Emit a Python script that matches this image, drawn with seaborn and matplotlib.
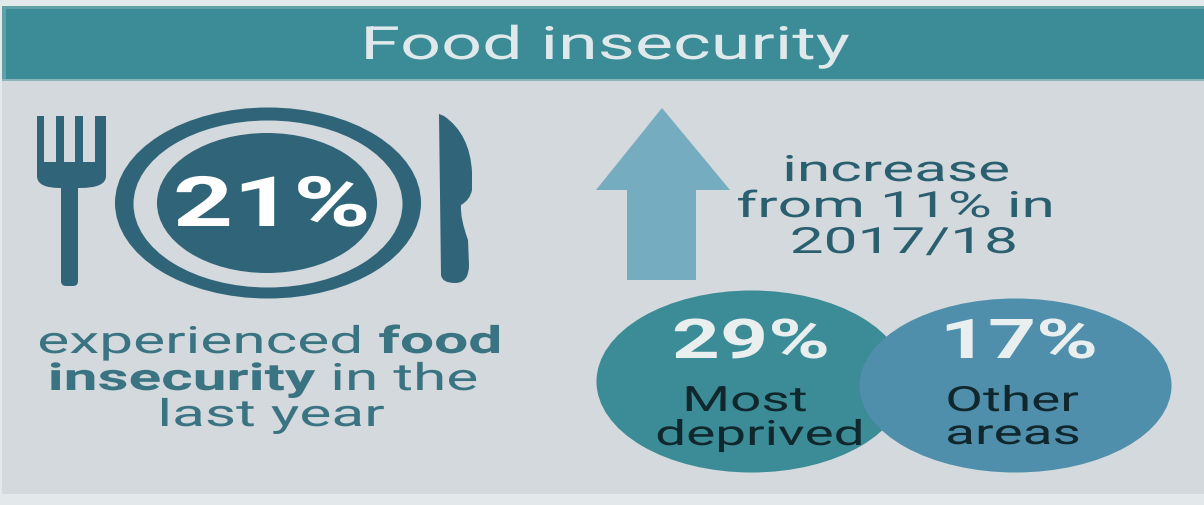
import matplotlib
matplotlib.use("Agg")
import matplotlib.pyplot as plt
import matplotlib.patheffects as pe
from matplotlib.markers import MarkerStyle
from matplotlib.patches import Ellipse, PathPatch, Rectangle, Polygon, FancyBboxPatch
from matplotlib.path import Path
from matplotlib.transforms import Affine2D
import pandas as pd
import seaborn as sns

# Figures shown on the panel
overall_pct = 21
previous_pct = 11
previous_year = "2017/18"
area_names = ["Most\ndeprived", "Other\nareas"]
area_pcts = [29, 17]

# Bubble layout for the two area groups
area_x = [751, 1015]
area_y = [381, 385]
area_radii = [(155, 91), (156, 87)]

PANEL = "#d3d9dc"
PAGE = "#e3e8eb"
TEAL = "#3b8c96"
DARK = "#306478"
BLUE = "#4f8fab"
ARROW = "#76acc0"
INK = "#10272d"

W, H = 1204, 505
sns.set_theme(style="white")
plt.rcParams["font.family"] = ["Roboto", "DejaVu Sans"]

fig = plt.figure(figsize=(W / 100, H / 100), dpi=100, facecolor=PAGE)
ax = fig.add_axes([0, 0, 1, 1])
ax.set_xlim(0, W)
ax.set_ylim(H, 0)
ax.axis("off")


class WideGlyphs(pe.AbstractPathEffect):
    """Draws text glyphs widened about a fixed x position in pixels."""

    def __init__(self, anchor, factor):
        super().__init__()
        self.anchor = anchor
        self.factor = factor

    def draw_path(self, renderer, gc, tpath, affine, rgbFace=None):
        wide = affine + Affine2D().translate(-self.anchor, 0).scale(self.factor, 1).translate(self.anchor, 0)
        renderer.draw_path(gc, tpath, wide, rgbFace)


def label(x, y, parts, size, color, stretch=1.6, weight="normal", zorder=4):
    """Centres one line of widened text on pixel x; parts are (string, weight) runs."""
    if isinstance(parts, str):
        parts = [(parts, weight)]
    renderer = fig.canvas.get_renderer()
    items = [ax.text(0, y, s, fontsize=size, color=color, fontweight=w, ha="left", va="baseline", zorder=zorder)
             for s, w in parts]
    widths = [t.get_window_extent(renderer).width for t in items]
    cursor = x - sum(widths) / 2
    for t, w in zip(items, widths):
        t.set_x(cursor)
        cursor += w
        t.set_path_effects([WideGlyphs(x, stretch)])


# Page panel and header band with its soft edge
ax.add_patch(Rectangle((2, 81), W - 2, 413, color=PANEL, lw=0))
ax.add_patch(Rectangle((2, 6), W - 2, 75, color="#8ab5bb", lw=0))
ax.add_patch(Rectangle((2, 6), W - 2, 73, color="#62a0a8", lw=0))
ax.add_patch(Rectangle((6, 8.7), W - 6, 70.3, color=TEAL, lw=0))
label(605, 59, "Food insecurity", 33, "#dfe8ea", stretch=1.57)

# Plate
ax.add_patch(Ellipse((268, 203), 306, 191, color=DARK, lw=0))
ax.add_patch(Ellipse((268, 204), 269, 167, color=PANEL, lw=0))
ax.add_patch(Ellipse((267, 203), 220, 140, color=DARK, lw=0))
label(272, 226, f"{overall_pct}%", 50, "white", stretch=1.51, weight="bold")

# Fork
for left, right in [(37, 44), (56, 64), (75, 83), (95, 106)]:
    ax.add_patch(Rectangle((left, 116), right - left, 50, color=DARK, lw=0))
fork_head = Path(
    [(37, 162), (106, 162), (106, 176), (106, 188), (80, 188), (60, 188), (37, 188), (37, 176), (37, 162), (37, 162)],
    [Path.MOVETO, Path.LINETO, Path.LINETO, Path.CURVE3, Path.CURVE3, Path.LINETO, Path.CURVE3, Path.CURVE3, Path.LINETO, Path.CLOSEPOLY],
)
ax.add_patch(PathPatch(fork_head, color=DARK, lw=0))
ax.add_patch(FancyBboxPatch((61, 180), 17, 106, boxstyle="round,pad=0,rounding_size=5", color=DARK, lw=0))

# Knife
knife = Path(
    [(439, 114), (444, 116), (470, 134), (472, 172), (472, 190), (470, 200), (461, 205), (460, 218),
     (468, 240), (469, 265), (469, 283), (455, 283), (442, 283), (441, 275), (439, 114), (439, 114)],
    [Path.MOVETO, Path.LINETO, Path.CURVE3, Path.CURVE3, Path.LINETO, Path.CURVE3, Path.CURVE3,
     Path.CURVE3, Path.CURVE3, Path.LINETO, Path.CURVE3, Path.CURVE3, Path.CURVE3, Path.CURVE3, Path.LINETO, Path.CLOSEPOLY],
)
ax.add_patch(PathPatch(knife, color=DARK, lw=0))

# Caption below the plate
cap = "#3a7482"
label(270, 353, [("experienced ", "normal"), ("food", "bold")], 27, cap, stretch=1.61)
label(263, 390, [("insecurity", "bold"), (" in the", "normal")], 27, cap, stretch=1.61)
label(271, 426, "last year", 27, cap, stretch=1.61)

# Upward arrow and change note
ax.add_patch(Polygon([(662, 108), (730, 190), (696, 190), (696, 280), (627, 280), (627, 190), (596, 190)],
                     closed=True, color=ARROW, lw=0))
note = "#2a5f70"
label(896, 181, "increase", 26, note, stretch=1.67)
label(896, 217, f"from {previous_pct}% in", 26, note, stretch=1.67)
label(904, 253, previous_year, 26, note, stretch=1.67)

# Area bubbles, drawn as stretched markers
areas = pd.DataFrame({"x": area_x, "y": area_y, "name": area_names})
for i, colour in enumerate([TEAL, BLUE]):
    rx, ry = area_radii[i]
    marker = MarkerStyle("o", transform=Affine2D().scale(rx / ry, 1))
    sns.scatterplot(data=areas.iloc[[i]], x="x", y="y", color=colour, marker=marker,
                    s=(ry * 2 * 0.72) ** 2, linewidth=0, legend=False, ax=ax, zorder=3)
ax.set_xlim(0, W)
ax.set_ylim(H, 0)
ax.set_xlabel("")
ax.set_ylabel("")

for x, pct in zip([751, 1019], area_pcts):
    label(x, 358, f"{pct}%", 39.5, "#e9eeef", stretch=1.53, weight="bold")
for x, name, ys in zip([(745, 760), (1012, 1013)], area_names, [(411, 445), (411, 444)]):
    for cx, y, line in zip(x, ys, name.split("\n")):
        label(cx, y, line, 25, INK, stretch=1.58)

fig.savefig("out.png", dpi=100, facecolor=PAGE)
